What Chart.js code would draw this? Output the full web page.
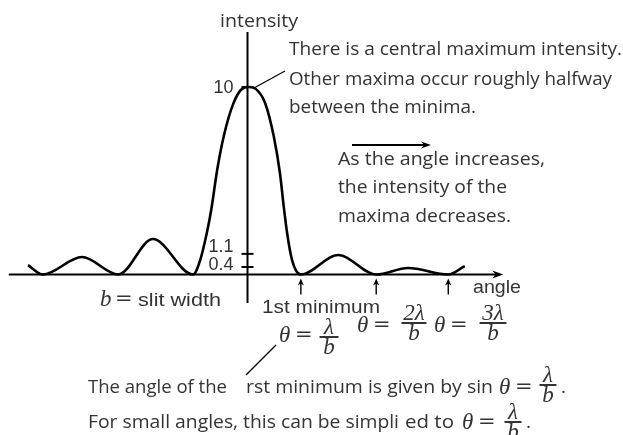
<!DOCTYPE html>
<html>
<head>
<meta charset="utf-8">
<script src="https://cdn.jsdelivr.net/npm/chart.js@4"></script>
<style>
  html, body { margin: 0; padding: 0; background: #fff; }
  #wrap { width: 623px; height: 435px; }
</style>
</head>
<body>
<div id="wrap"><canvas id="slit"></canvas></div>
<script>
// single slit diffraction pattern (angle in units of lambda/b, roughly)
const angle = [-3.99, -3.72, -3.01, -2.35, -1.72, -0.99, -0.86, -0.74, -0.66, -0.55, -0.43, -0.26, -0.1, 0.03,
  0.15, 0.32, 0.48, 0.59, 0.66, 0.72, 0.81, 0.97, 1.65, 2.34, 2.92, 3.65, 3.95];
const intensity = [0.5, 0, 0.93, 0, 1.89, 0, 0.77, 2.21, 3.44, 5.6, 7.4, 9.1, 9.9, 10,
  9.9, 9.15, 7.33, 5.4, 3.6, 2.21, 0.77, 0, 1.04, 0, 0.35, 0, 0.45];

const tickValues = [10, 1.1, 0.4];
const tickLabels = ['10', '1.1', '0.4'];
const minimaAngles = [0.97, 2.34, 3.65];
const angleAxis = [-4.34, 4.65];
const intensityAxis = [-1.52, 12.93];

const peakNote = ['There is a central maximum intensity.', 'Other maxima occur roughly halfway', 'between the minima.'];
const trendNote = ['As the angle increases,', 'the intensity of the', 'maxima decreases.'];

const INK = '#000';
const TXT = '#333';
const NOTE_FONT = '19px "Open Sans"';
const CM_FONT = '18px "Liberation Sans"';
const MATH_I = 'italic 23px "Liberation Serif"';
const MATH_EQ = '21px "DejaVu Serif"';

function line(ctx, x1, y1, x2, y2, w) {
  ctx.save();
  ctx.strokeStyle = INK;
  ctx.lineWidth = w;
  ctx.beginPath();
  ctx.moveTo(x1, y1);
  ctx.lineTo(x2, y2);
  ctx.stroke();
  ctx.restore();
}

// arrowhead with its tip at (x, y), pointing along (dx, dy)
function head(ctx, x, y, dx, dy, len, half) {
  const px = -dy, py = dx;
  ctx.save();
  ctx.fillStyle = INK;
  ctx.beginPath();
  ctx.moveTo(x, y);
  ctx.lineTo(x - dx * len + px * half, y - dy * len + py * half);
  ctx.lineTo(x - dx * len * 0.7, y - dy * len * 0.7);
  ctx.lineTo(x - dx * len - px * half, y - dy * len - py * half);
  ctx.closePath();
  ctx.fill();
  ctx.restore();
}

// text squeezed or stretched to a given width when one is passed
function text(ctx, s, x, y, font, width, align) {
  ctx.save();
  ctx.font = font;
  ctx.fillStyle = TXT;
  ctx.textAlign = align || 'left';
  ctx.textBaseline = 'alphabetic';
  ctx.translate(x, y);
  if (width) {
    const w = ctx.measureText(s).width;
    ctx.scale(width / w, 1);
  }
  ctx.fillText(s, 0, 0);
  ctx.restore();
}

// theta = num / b, bar centred at cx
function formula(ctx, x, base, num, cx, barY, barW) {
  text(ctx, '\u03B8', x, base, MATH_I);
  text(ctx, '=', x + 16, base - 1, MATH_EQ);
  ctx.save();
  ctx.font = MATH_I;
  ctx.fillStyle = TXT;
  ctx.textAlign = 'center';
  ctx.fillText(num, cx, barY - 3);
  ctx.fillText('b', cx, barY + 17);
  ctx.restore();
  line(ctx, cx - barW / 2, barY, cx + barW / 2, barY, 1.6);
}

const decorations = {
  id: 'decorations',
  beforeDatasetsDraw(chart) {
    const ctx = chart.ctx;
    const xs = chart.scales.x, ys = chart.scales.y;
    const x0 = xs.getPixelForValue(0);
    const y0 = ys.getPixelForValue(0);

    // angle axis with arrow
    const xa = xs.getPixelForValue(angleAxis[0]);
    const xb = xs.getPixelForValue(angleAxis[1]);
    line(ctx, xa, y0, xb - 4, y0, 2);
    head(ctx, xb, y0, 1, 0, 11, 4);

    // intensity axis
    line(ctx, x0, ys.getPixelForValue(intensityAxis[0]), x0, ys.getPixelForValue(intensityAxis[1]), 2);

    // intensity ticks and labels
    const labelShift = [0, -8, -3];
    tickValues.forEach((v, i) => {
      const py = ys.getPixelForValue(v);
      line(ctx, x0 - 6, py, x0 + 6, py, 2);
      text(ctx, tickLabels[i], x0 - 14, py + labelShift[i] + 6, CM_FONT, null, 'right');
    });

    // arrows under the minima
    minimaAngles.forEach(a => {
      const px = xs.getPixelForValue(a);
      line(ctx, px, y0 + 20, px, y0 + 8, 1.4);
      head(ctx, px, y0 + 4, 0, -1, 7, 3);
    });
  },
  afterDatasetsDraw(chart) {
    const ctx = chart.ctx;

    text(ctx, 'intensity', 220, 27, NOTE_FONT, 78);
    text(ctx, 'angle', 473, 293, CM_FONT, 48);

    peakNote.forEach((s, i) => text(ctx, s, 289, [55, 85, 113][i], NOTE_FONT, [333, 323, 187][i]));
    line(ctx, 254, 88, 285, 71, 1.2);

    trendNote.forEach((s, i) => text(ctx, s, 338, [165, 193, 222][i], NOTE_FONT, [207, 169, 173][i]));
    line(ctx, 352, 145, 424, 145, 2);
    head(ctx, 431, 145, 1, 0, 10, 3.5);

    // slit width
    text(ctx, 'b', 100, 306, MATH_I);
    text(ctx, '=', 115, 305, MATH_EQ);
    text(ctx, 'slit width', 138, 306, CM_FONT, 83);

    text(ctx, '1st minimum', 262, 313, CM_FONT, 118);
    formula(ctx, 279, 342, '\u03BB', 329, 337, 19);
    formula(ctx, 357, 332, '2\u03BB', 414, 323, 25);
    formula(ctx, 434, 332, '3\u03BB', 493, 323, 27);
    line(ctx, 276, 345, 246, 375, 1.2);

    // explanation underneath
    text(ctx, 'The angle of the', 88, 393, NOTE_FONT, 139);
    text(ctx, 'rst minimum is given by sin', 246, 393, NOTE_FONT, 247);
    formula(ctx, 499, 394, '\u03BB', 548, 385, 17);
    text(ctx, '.', 561, 393, NOTE_FONT);

    text(ctx, 'For small angles, this can be simpli', 88, 428, NOTE_FONT, 311);
    text(ctx, 'ed to', 405, 428, NOTE_FONT, 49);
    formula(ctx, 462, 429, '\u03BB', 513, 422, 17);
    text(ctx, '.', 526, 428, NOTE_FONT);
  }
};

new Chart(document.getElementById('slit'), {
  type: 'scatter',
  data: {
    datasets: [{
      data: angle.map((a, i) => ({ x: a, y: intensity[i] })),
      showLine: true,
      borderColor: INK,
      borderWidth: 2.6,
      pointRadius: 0,
      cubicInterpolationMode: 'monotone',
      fill: false
    }]
  },
  options: {
    responsive: true,
    maintainAspectRatio: false,
    animation: false,
    events: [],
    layout: { padding: 0 },
    plugins: { legend: { display: false }, tooltip: { enabled: false } },
    scales: {
      x: { type: 'linear', display: false, min: -4.5, max: 6.827 },
      y: { type: 'linear', display: false, min: -8.56, max: 14.64 }
    }
  },
  plugins: [decorations]
});
</script>
</body>
</html>
